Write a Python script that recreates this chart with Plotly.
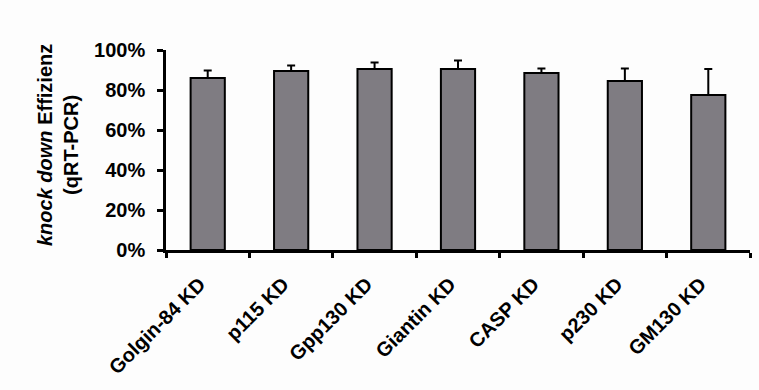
import plotly.graph_objects as go

# knock-down efficiency per golgin (qRT-PCR), percent, with upper SD
categories = ["Golgin-84 KD", "p115 KD", "Gpp130 KD", "Giantin KD", "CASP KD", "p230 KD", "GM130 KD"]
efficiency = [86, 89.5, 90.5, 90.5, 88.5, 84.5, 77.5]
error_up = [3.8, 2.8, 3.2, 4.3, 2.2, 6.2, 13.0]
y_ticks = [0, 20, 40, 60, 80, 100]
y_tick_labels = ["0%", "20%", "40%", "60%", "80%", "100%"]

FONT = "Liberation Sans, Arial, sans-serif"

fig = go.Figure(
    go.Bar(
        x=categories,
        y=efficiency,
        marker=dict(color="#7f7c82", line=dict(color="black", width=2)),
        error_y=dict(
            type="data",
            array=error_up,
            arrayminus=[0] * len(error_up),
            symmetric=False,
            color="black",
            thickness=2,
            width=4,
        ),
        width=0.41,
    )
)

fig.update_layout(
    width=759,
    height=390,
    margin=dict(l=166, r=9, t=50, b=140),
    paper_bgcolor="#fdfdfd",
    plot_bgcolor="#fdfdfd",
    showlegend=False,
    font=dict(family=FONT, size=19, color="black", weight="bold"),
)

fig.update_xaxes(
    showline=True,
    linecolor="black",
    linewidth=2.5,
    ticks="outside",
    tickson="boundaries",
    ticklen=5,
    tickwidth=2.5,
    tickcolor="black",
    tickangle=-45,
    tickfont=dict(size=20, weight="bold"),
    ticklabelstandoff=12,
    ticklabelshift=-8,
    showgrid=False,
)

fig.update_yaxes(
    range=[0, 100],
    tickvals=y_ticks,
    ticktext=y_tick_labels,
    showline=True,
    linecolor="black",
    linewidth=2.5,
    ticks="outside",
    ticklen=6,
    tickwidth=2.5,
    tickcolor="black",
    tickfont=dict(size=20, weight="bold"),
    ticklabelstandoff=8,
    showgrid=False,
    zeroline=False,
)

fig.add_annotation(
    text="<i>knock down</i> Effizienz<br>(qRT-PCR)",
    xref="paper",
    yref="paper",
    x=(58 - 166) / 584,
    y=(250 - 145) / 200,
    xanchor="center",
    yanchor="middle",
    textangle=-90,
    showarrow=False,
    font=dict(family=FONT, size=20, weight="bold", color="black"),
)

fig.write_html("out.html")
